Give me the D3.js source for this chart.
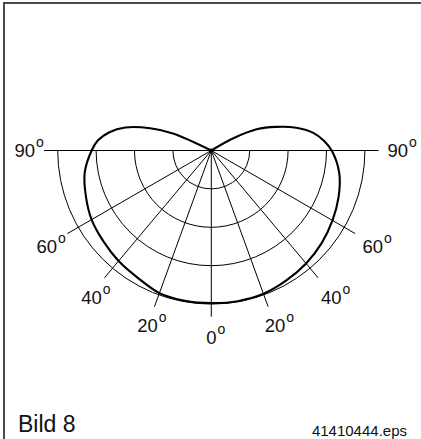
<!DOCTYPE html>
<html>
<head>
<meta charset="utf-8">
<script src="https://cdn.jsdelivr.net/npm/d3@7"></script>
<style>
html,body{margin:0;padding:0;background:#fff;}
svg{display:block;}
text{font-family:"Liberation Sans",Arial,Helvetica,sans-serif;fill:#111;}
</style>
</head>
<body>
<div id="chart"></div>
<script>
// Polar grid definition (percent of max intensity)
const ringValues = [25, 50, 75, 100];
const spokeAngles = [-60, -40, -20, 0, 20, 40, 60];
const labelAngles = [-90, -60, -40, -20, 0, 20, 40, 60, 90];
const labelTexts = ["90", "60", "40", "20", "0", "20", "40", "60", "90"];

// Light distribution curve: angle (deg from nadir, negative = left) and relative intensity
const curveAngles = [-115.5, -114, -110, -105, -100, -95, -90, -80, -70, -60, -50, -40, -30, -20, -10, 0,
  10, 20, 30, 40, 50, 60, 70, 80, 90, 95, 100, 105, 110, 115, 119, 122];
const curveValues = [0, 27.3, 42.3, 57.9, 67.7, 74.2, 77.9, 83.7, 86.9, 90.0, 91.8, 93.9, 95.7, 98.8, 99.3, 99.3,
  99.6, 99.3, 97.7, 96.0, 93.8, 91.1, 88.2, 84.6, 78.4, 73.6, 67.1, 57.3, 44.9, 32.6, 16.4, 0];

const figureLabel = "Bild 8";
const fileLabel = "41410444.eps";

const W = 421, H = 439;
const cx = 211.3, cy = 150.5;
const svg = d3.select("#chart").append("svg").attr("width", W).attr("height", H);

// frame (top and left edges)
svg.append("line").attr("x1", 3).attr("y1", 3).attr("x2", W).attr("y2", 3)
  .attr("stroke", "#4a4a4a").attr("stroke-width", 2);
svg.append("line").attr("x1", 4).attr("y1", 3).attr("x2", 4).attr("y2", H)
  .attr("stroke", "#4a4a4a").attr("stroke-width", 2);

const r = d3.scaleLinear().domain([0, 100]).range([0, 153.6]);
const toRad = d => (180 - d) * Math.PI / 180; // d3 radial angle (clockwise from up)

const g = svg.append("g").attr("transform", `translate(${cx},${cy})`);

// rings (lower half-circles)
g.selectAll("path.ring").data(ringValues).join("path")
  .attr("class", "ring")
  .attr("d", d => {
      const p = d3.path();
      p.arc(0, 0, r(d), 0, Math.PI, false);
      return p.toString();
    })
  .attr("fill", "none").attr("stroke", "#000").attr("stroke-width", 1);

// horizontal 90° line
const spokeLen = 108.2;
g.append("line")
  .attr("x1", -r(spokeLen) - 1).attr("y1", 0)
  .attr("x2", r(spokeLen) + 1).attr("y2", 0)
  .attr("stroke", "#000").attr("stroke-width", 1);

// spokes
g.selectAll("line.spoke").data(spokeAngles).join("line")
  .attr("class", "spoke")
  .attr("x1", 0).attr("y1", 0)
  .attr("x2", d => r(spokeLen) * Math.sin(d * Math.PI / 180))
  .attr("y2", d => r(spokeLen) * Math.cos(d * Math.PI / 180))
  .attr("stroke", "#000").attr("stroke-width", 1);

// curve
const pts = curveAngles.map((a, i) => [a, curveValues[i]]);
const line = d3.lineRadial()
  .angle(d => toRad(d[0]))
  .radius(d => r(d[1]))
  .curve(d3.curveCatmullRom.alpha(0.5));
g.append("path").datum(pts)
  .attr("d", line)
  .attr("fill", "none").attr("stroke", "#000").attr("stroke-width", 2.1)
  .attr("stroke-linejoin", "round");

// center dot
g.append("circle").attr("r", 2).attr("fill", "#000");

// angle labels
const labelR = 186.5;
const lab = g.selectAll("text.ang").data(labelAngles).join("text")
  .attr("class", "ang")
  .attr("x", d => labelR * Math.sin(d * Math.PI / 180) + (Math.abs(d) === 60 ? (d < 0 ? -3 : 0) : 0))
  .attr("y", d => labelR * Math.cos(d * Math.PI / 180) + 6.5 + (Math.abs(d) === 60 ? 3 : 0) + (Math.abs(d) === 40 ? 4 : 0))
  .attr("text-anchor", "start")
  .style("font-size", "18.5px");
lab.append("tspan").attr("class", "num")
  .text((d, i) => labelTexts[i]);
lab.append("tspan")
  .attr("dx", 1).attr("dy", -10)
  .style("font-size", "14px")
  .text("o");
// shift so digits are centred on the label point
lab.each(function() {
  const num = d3.select(this).select("tspan.num").node();
  const w = num.getComputedTextLength();
  const x = +d3.select(this).attr("x");
  d3.select(this).attr("x", x - w / 2);
});

svg.append("text").attr("x", 18).attr("y", 431.5)
  .style("font-size", "23px").text(figureLabel);
svg.append("text").attr("x", 407).attr("y", 436).attr("text-anchor", "end")
  .style("font-size", "15px").text(fileLabel);
</script>
</body>
</html>
